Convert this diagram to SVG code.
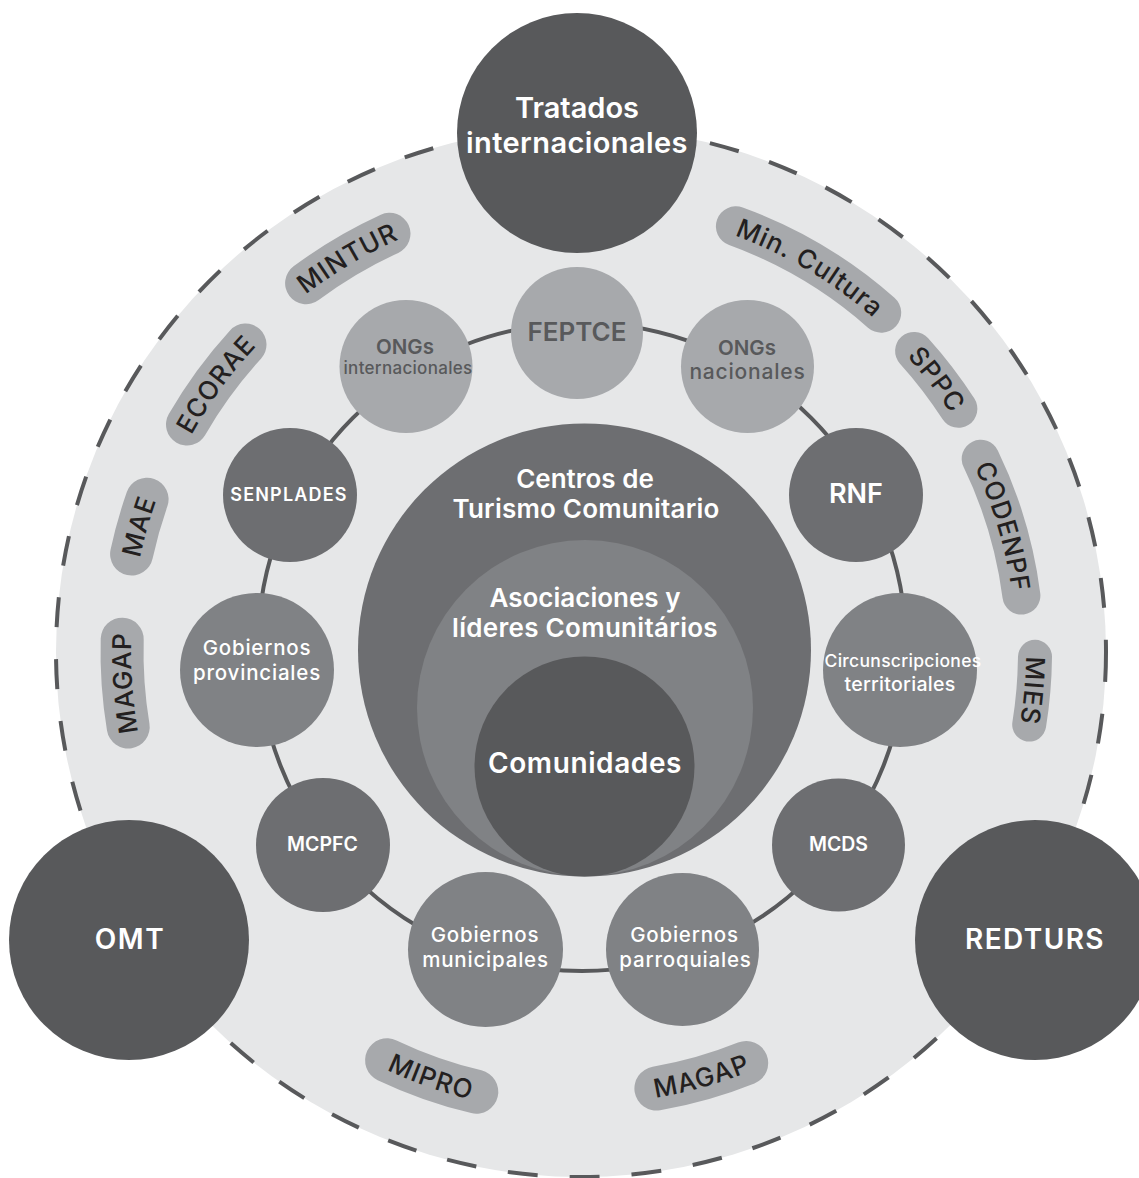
<svg xmlns="http://www.w3.org/2000/svg" width="1139" height="1178" viewBox="0 0 1139 1178">
  <defs>
    <style>
      text { font-family: Inter, "Noto Sans", "Liberation Sans", sans-serif; text-anchor: middle; }
      .field { fill: #e6e7e8; stroke: #58595b; stroke-width: 4; stroke-dasharray: 30 32; }
      .ring { fill: none; stroke: #58595b; stroke-width: 4; }
      .c-dark { fill: #58595b; }
      .c-mid { fill: #6d6e71; }
      .c-soft { fill: #808285; }
      .c-light { fill: #a7a9ac; }
      .pill { fill: none; stroke: #a7a9ac; stroke-linecap: round; }
      .t-w { fill: #ffffff; font-weight: 600; }
      .t-wm { fill: #ffffff; font-weight: 500; }
      .t-d { fill: #58595b; font-weight: 600; }
      .t-dm { fill: #58595b; font-weight: 500; }
      .t-pill { fill: #231f20; font-size: 26px; font-weight: 500; letter-spacing: 1px; }
    </style>
    <!-- baselines for the curved pill labels (centre 581,652) -->
    <path id="tp-mintur" d="M170.1 466.0 A451 451 0 0 1 615.2 202.3"/>
    <path id="tp-ecorae" d="M135.1 642.3 A446 446 0 0 1 437.7 229.7"/>
    <path id="tp-mae" d="M154.9 799.9 A451 451 0 0 1 296.3 302.2"/>
    <path id="tp-magap-l" d="M230.8 934.6 A450 450 0 0 1 195.7 419.6"/>
    <path id="tp-mipro" d="M206.2 920.4 A461 461 0 0 0 705.0 1096.0"/>
    <path id="tp-magap-b" d="M432.7 1079.0 A452 452 0 0 0 931.4 937.5"/>
    <path id="tp-cultura" d="M548.1 209.2 A444 444 0 0 1 985.8 469.6"/>
    <path id="tp-sppc" d="M713.7 232.5 A440 440 0 0 1 1020.6 633.2"/>
    <path id="tp-codenpf" d="M851.5 311.4 A435 435 0 0 1 993.6 789.7"/>
    <path id="tp-mies" d="M966.0 428.8 A445 445 0 0 1 922.4 937.4"/>
  </defs>

  <!-- outer field -->
  <g id="field">
    <circle class="field" cx="581" cy="652" r="525"/>
  </g>

  <!-- ring joining the middle nodes -->
  <g id="connectors">
    <circle class="ring" cx="582" cy="647" r="324"/>
  </g>

  <!-- nested core -->
  <g id="centros">
    <circle class="c-mid" cx="584.5" cy="650" r="226.5"/>
    <text class="t-w" font-size="26" x="585" y="488">Centros de</text>
    <text class="t-w" font-size="26" x="586" y="518" letter-spacing="0.2">Turismo Comunitario</text>
  </g>
  <g id="asociaciones">
    <circle class="c-soft" cx="585" cy="708" r="168"/>
    <text class="t-w" font-size="26" x="585" y="607">Asociaciones y</text>
    <text class="t-w" font-size="26" x="585" y="637" letter-spacing="0.3">líderes Comunitários</text>
  </g>
  <g id="comunidades">
    <circle class="c-dark" cx="584.5" cy="766.5" r="110"/>
    <text class="t-w" font-size="28" x="585" y="773" letter-spacing="0.6">Comunidades</text>
  </g>

  <!-- middle ring nodes -->
  <g id="feptce">
    <circle class="c-light" cx="577" cy="333" r="66"/>
    <text class="t-d" font-size="26" x="577" y="341">FEPTCE</text>
  </g>
  <g id="ongs-internacionales">
    <circle class="c-light" cx="406" cy="366.5" r="66.5"/>
    <text class="t-d" font-size="20.5" x="405" y="354">ONGs</text>
    <text class="t-dm" font-size="17" x="408" y="374" letter-spacing="0.3">internacionales</text>
  </g>
  <g id="ongs-nacionales">
    <circle class="c-light" cx="747.5" cy="366.5" r="66.5"/>
    <text class="t-d" font-size="20.5" x="747" y="355">ONGs</text>
    <text class="t-dm" font-size="21" x="747.5" y="379" letter-spacing="0.8">nacionales</text>
  </g>
  <g id="senplades">
    <circle class="c-mid" cx="290" cy="495" r="67"/>
    <text class="t-w" font-size="18" x="289" y="501" letter-spacing="1.2">SENPLADES</text>
  </g>
  <g id="rnf">
    <circle class="c-mid" cx="856" cy="495" r="67"/>
    <text class="t-w" font-size="27" x="856" y="503">RNF</text>
  </g>
  <g id="gobiernos-provinciales">
    <circle class="c-soft" cx="257" cy="670" r="77"/>
    <text class="t-wm" font-size="20.5" x="257" y="655" letter-spacing="0.8">Gobiernos</text>
    <text class="t-wm" font-size="20.5" x="257" y="680" letter-spacing="0.8">provinciales</text>
  </g>
  <g id="circunscripciones">
    <circle class="c-soft" cx="900" cy="670" r="77"/>
    <text class="t-wm" font-size="17.5" x="903" y="667" letter-spacing="0.3">Circunscripciones</text>
    <text class="t-wm" font-size="19.5" x="900" y="691" letter-spacing="0.3">territoriales</text>
  </g>
  <g id="mcpfc">
    <circle class="c-mid" cx="323" cy="845" r="67"/>
    <text class="t-w" font-size="19.5" x="322.5" y="851">MCPFC</text>
  </g>
  <g id="mcds">
    <circle class="c-mid" cx="838.5" cy="845" r="66.5"/>
    <text class="t-w" font-size="19.5" x="838.5" y="851">MCDS</text>
  </g>
  <g id="gobiernos-municipales">
    <circle class="c-soft" cx="485.5" cy="949.5" r="77.5"/>
    <text class="t-wm" font-size="20.5" x="485" y="942" letter-spacing="0.8">Gobiernos</text>
    <text class="t-wm" font-size="20.5" x="485.5" y="967" letter-spacing="0.8">municipales</text>
  </g>
  <g id="gobiernos-parroquiales">
    <circle class="c-soft" cx="682.5" cy="949.5" r="76.5"/>
    <text class="t-wm" font-size="20.5" x="684.5" y="942" letter-spacing="0.8">Gobiernos</text>
    <text class="t-wm" font-size="20.5" x="685.5" y="967" letter-spacing="0.8">parroquiales</text>
  </g>

  <!-- curved institution tags -->
  <g id="mintur">
    <path class="pill" stroke-width="42" d="M306.1 283.2 A460 460 0 0 1 389.5 233.8"/>
    <text class="t-pill"><textPath href="#tp-mintur" startOffset="50%">MINTUR</textPath></text>
  </g>
  <g id="ecorae">
    <path class="pill" stroke-width="42" d="M187.0 424.5 A455 455 0 0 1 245.5 344.6"/>
    <text class="t-pill"><textPath href="#tp-ecorae" startOffset="50%">ECORAE</textPath></text>
  </g>
  <g id="mae">
    <path class="pill" stroke-width="43" d="M131.6 554.0 A460 460 0 0 1 147.1 499.2"/>
    <text class="t-pill"><textPath href="#tp-mae" startOffset="50%">MAE</textPath></text>
  </g>
  <g id="magap-left">
    <path class="pill" stroke-width="43" d="M128.2 727.0 A459 459 0 0 1 122.2 639.2"/>
    <text class="t-pill"><textPath href="#tp-magap-l" startOffset="50%">MAGAP</textPath></text>
  </g>
  <g id="mipro">
    <path class="pill" stroke-width="44" d="M387.1 1060.3 A452 452 0 0 0 476.3 1091.7"/>
    <text class="t-pill"><textPath href="#tp-mipro" startOffset="50%">MIPRO</textPath></text>
  </g>
  <g id="magap-bottom">
    <path class="pill" stroke-width="44" d="M656.4 1088.5 A443 443 0 0 0 746.2 1063.0"/>
    <text class="t-pill"><textPath href="#tp-magap-b" startOffset="50%">MAGAP</textPath></text>
  </g>
  <g id="min-cultura">
    <path class="pill" stroke-width="40" d="M735.9 226.3 A453 453 0 0 1 881.2 312.7"/>
    <text class="t-pill"><textPath href="#tp-cultura" startOffset="50%">Min. Cultura</textPath></text>
  </g>
  <g id="sppc">
    <path class="pill" stroke-width="38" d="M914.1 350.9 A449 449 0 0 1 958.4 408.8"/>
    <text class="t-pill"><textPath href="#tp-sppc" startOffset="50%">SPPC</textPath></text>
  </g>
  <g id="codenpf">
    <path class="pill" stroke-width="38" d="M980.7 458.8 A444 444 0 0 1 1021.4 595.6"/>
    <text class="t-pill"><textPath href="#tp-codenpf" startOffset="50%">CODENPF</textPath></text>
  </g>
  <g id="mies">
    <path class="pill" stroke-width="34" d="M1035.0 656.8 A454 454 0 0 1 1029.2 724.6"/>
    <text class="t-pill"><textPath href="#tp-mies" startOffset="50%">MIES</textPath></text>
  </g>

  <!-- large outer bodies -->
  <g id="tratados">
    <circle class="c-dark" cx="577" cy="133" r="120"/>
    <text class="t-w" font-size="29" x="577" y="118">Tratados</text>
    <text class="t-w" font-size="29" x="577" y="153" letter-spacing="0.4">internacionales</text>
  </g>
  <g id="omt">
    <circle class="c-dark" cx="129" cy="940" r="120"/>
    <text class="t-w" font-size="28" x="130" y="949" letter-spacing="1.5">OMT</text>
  </g>
  <g id="redturs">
    <circle class="c-dark" cx="1035" cy="940" r="120"/>
    <text class="t-w" font-size="28" x="1035" y="949" letter-spacing="1.4">REDTURS</text>
  </g>
</svg>
